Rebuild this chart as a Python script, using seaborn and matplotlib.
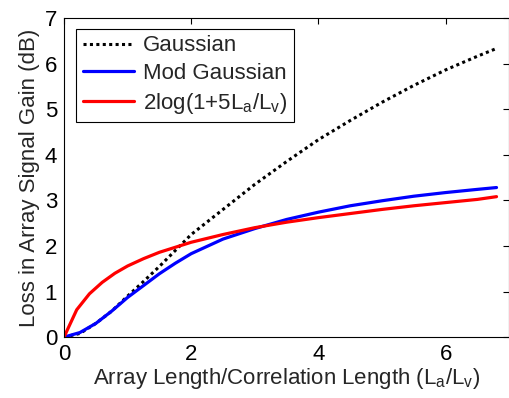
import matplotlib
matplotlib.use('Agg')
import matplotlib.pyplot as plt
import seaborn as sns

# values
x_gauss = [0, 0.25, 0.5, 0.75, 1.0, 1.25, 1.5, 1.75, 2.0, 2.5, 3.0, 3.5, 4.0, 4.5, 5.0, 5.5, 6.0, 6.5, 6.8]
y_gauss = [0, 0.08, 0.3, 0.57, 0.9, 1.22, 1.55, 1.9, 2.25, 2.8, 3.35, 3.85, 4.33, 4.75, 5.15, 5.52, 5.86, 6.16, 6.33]

x_mod = [0, 0.25, 0.5, 0.75, 1.0, 1.25, 1.5, 1.75, 2.0, 2.5, 3.0, 3.5, 4.0, 4.5, 5.0, 5.5, 6.0, 6.5, 6.8]
y_mod = [0, 0.1, 0.3, 0.57, 0.87, 1.13, 1.39, 1.62, 1.83, 2.15, 2.38, 2.58, 2.74, 2.88, 2.99, 3.09, 3.17, 3.24, 3.28]

x_log = [0, 0.2, 0.4, 0.6, 0.8, 1.0, 1.25, 1.5, 1.75, 2.0, 2.5, 3.0, 3.5, 4.0, 4.5, 5.0, 5.5, 6.0, 6.5, 6.8]
y_log = [0, 0.6, 0.95, 1.2, 1.4, 1.56, 1.72, 1.86, 1.97, 2.08, 2.25, 2.4, 2.52, 2.62, 2.71, 2.8, 2.88, 2.95, 3.02, 3.08]

x_ticks = [0, 2, 4, 6]
y_ticks = [0, 1, 2, 3, 4, 5, 6, 7]

sns.set_style('white')
plt.rcParams['font.family'] = ['Liberation Sans', 'DejaVu Sans']
plt.rcParams['mathtext.fontset'] = 'custom'
plt.rcParams['mathtext.rm'] = 'Liberation Sans'
plt.rcParams['xtick.direction'] = 'in'
plt.rcParams['ytick.direction'] = 'in'

fig = plt.figure(figsize=(5.1, 3.98), dpi=100)
ax = fig.add_axes([0.1255, 0.153, 0.873, 0.802])

sns.lineplot(x=x_gauss, y=y_gauss, ax=ax, color='black', lw=2.2, label='Gaussian')
ax.lines[-1].set_dashes((1, 1.1))
sns.lineplot(x=x_mod, y=y_mod, ax=ax, color='#0000ff', lw=2.3, label='Mod Gaussian')
sns.lineplot(x=x_log, y=y_log, ax=ax, color='#ff0000', lw=2.3,
             label=r'2log(1+5L$_\mathregular{a}$/L$_\mathregular{v}$)')

ax.set_xlim(0, 7)
ax.set_ylim(0, 7)
ax.set_xticks(x_ticks)
ax.set_yticks(y_ticks)
ax.tick_params(labelsize=16, length=4, width=0.8, pad=5, top=True, right=True, colors='black')
for s in ax.spines.values():
    s.set_color('black')
    s.set_linewidth(0.8)

ax.set_xlabel(r'Array Length/Correlation Length (L$_\mathregular{a}$/L$_\mathregular{v}$)', fontsize=16, labelpad=1)
ax.set_ylabel('Loss in Array Signal Gain (dB)', fontsize=16, labelpad=3)

leg = ax.legend(loc='upper left', bbox_to_anchor=(0.027, 0.966), borderaxespad=0,
                fontsize=16, fancybox=False, framealpha=1, edgecolor='black',
                handlelength=2.3, handletextpad=0.4, labelspacing=0.3, borderpad=0.3)
leg.get_frame().set_linewidth(0.8)

fig.savefig('out.png', dpi=100)
